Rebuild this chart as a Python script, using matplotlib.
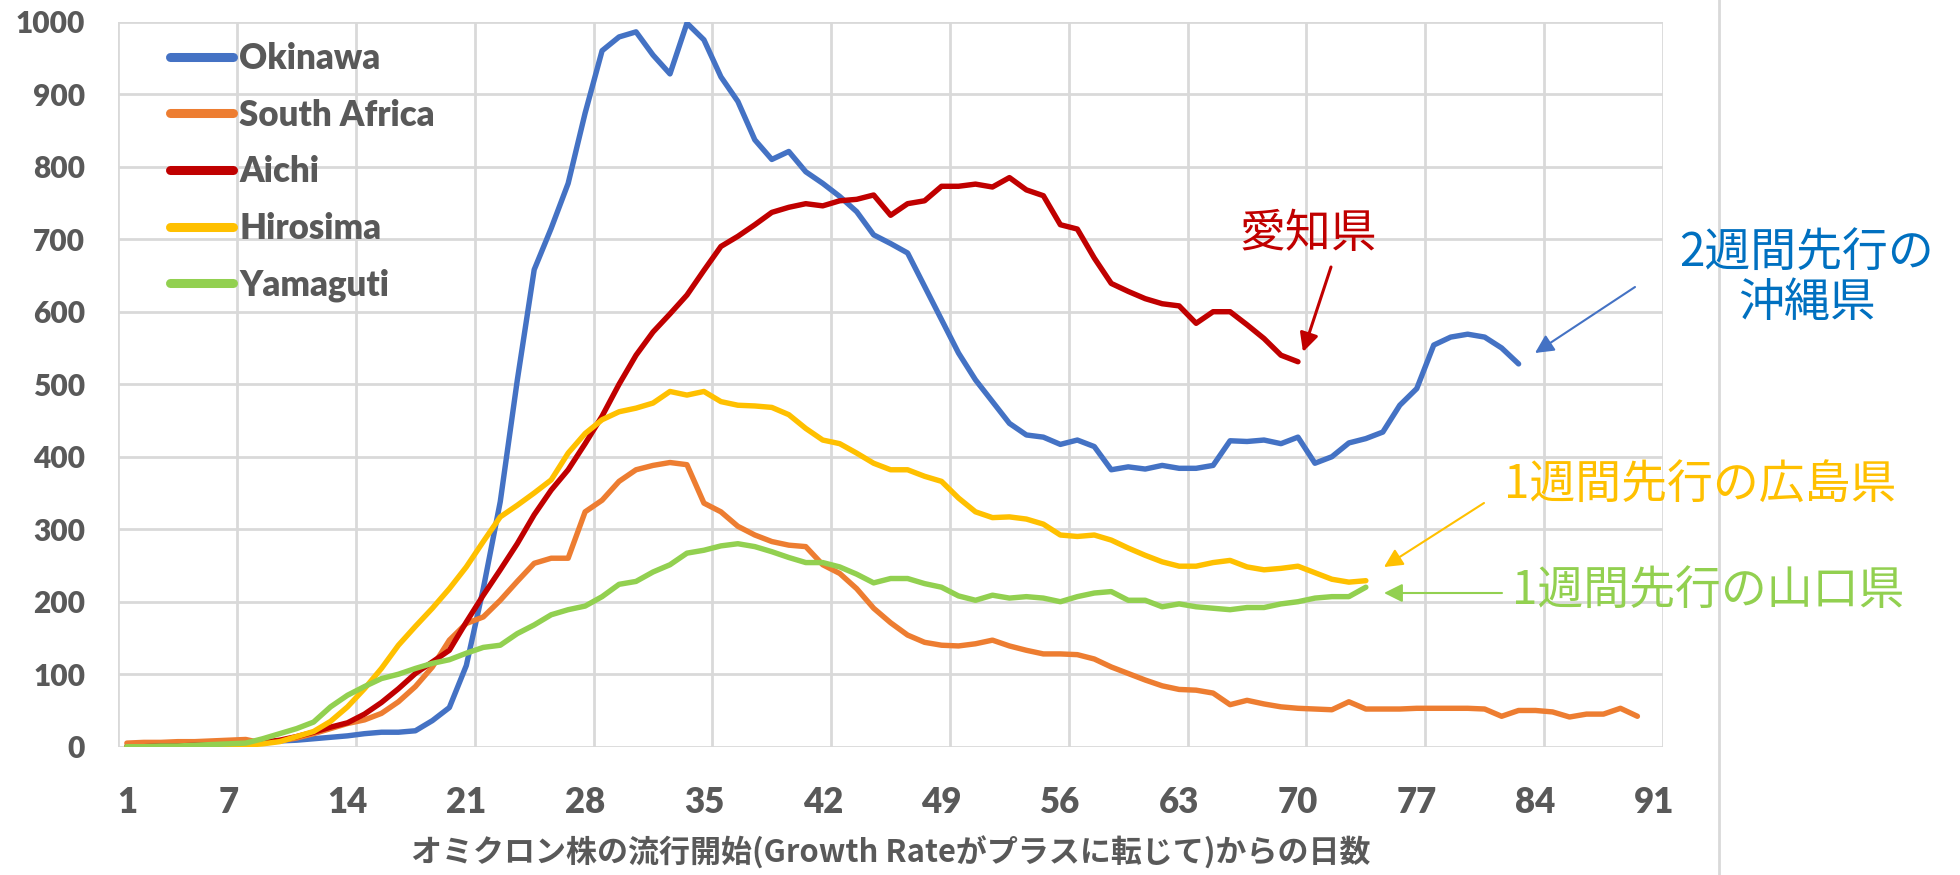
import numpy as np
import matplotlib
matplotlib.use("Agg")
import matplotlib.pyplot as plt

plt.rcParams['font.family'] = ['Lato', 'Noto Sans CJK JP', 'DejaVu Sans']

okinawa = [1, 1, 2, 2, 3, 3, 4, 5, 6, 8,
           9, 11, 13, 15, 18, 20, 20, 22, 36, 54,
           112, 218, 338, 505, 658, 715, 777, 874, 960, 979,
           986, 954, 928, 998, 975, 924, 890, 837, 810, 821,
           793, 777, 759, 738, 706, 694, 681, 635, 589, 543,
           506, 476, 446, 430, 427, 417, 423, 414, 382, 386,
           383, 388, 384, 384, 388, 422, 421, 423, 418, 427,
           391, 400, 419, 425, 434, 471, 494, 554, 565, 569,
           565, 550, 528]
south_africa = [5, 6, 6, 7, 7, 8, 9, 10, 5, 8,
                12, 18, 25, 32, 37, 46, 62, 83, 110, 147,
                170, 179, 202, 228, 253, 260, 260, 324, 340, 366,
                382, 388, 392, 389, 336, 324, 304, 292, 283, 278,
                276, 251, 239, 218, 191, 171, 154, 144, 140, 139,
                142, 147, 139, 133, 128, 128, 127, 121, 110, 101,
                92, 84, 79, 78, 74, 58, 64, 59, 55, 53,
                52, 51, 62, 52, 52, 52, 53, 53, 53, 53,
                52, 42, 50, 50, 48, 41, 45, 45, 53, 42]
aichi = [0, 0, 1, 1, 2, 2, 3, 4, 6, 9,
         14, 20, 27, 33, 45, 61, 80, 101, 117, 133,
         172, 209, 244, 280, 320, 354, 382, 418, 456, 500,
         540, 572, 597, 623, 657, 690, 704, 720, 737, 744,
         749, 746, 753, 755, 761, 733, 749, 753, 773, 773,
         776, 772, 785, 768, 760, 720, 714, 674, 639, 628,
         618, 611, 608, 584, 600, 600, 582, 563, 540, 531]
hirosima = [0, 0, 0, 0, 1, 1, 1, 2, 4, 7,
            14, 21, 35, 55, 80, 108, 140, 166, 191, 218,
            248, 283, 317, 333, 350, 368, 405, 432, 451, 462,
            467, 474, 490, 485, 490, 476, 471, 470, 468, 458,
            439, 423, 418, 405, 391, 382, 382, 373, 366, 343,
            324, 316, 317, 314, 307, 292, 290, 292, 285, 274,
            264, 255, 249, 249, 254, 257, 248, 244, 246, 249,
            240, 231, 227, 229]
yamaguti = [0, 0, 1, 1, 2, 3, 4, 5, 11, 18,
            25, 34, 55, 71, 83, 94, 100, 108, 115, 120,
            129, 137, 140, 156, 168, 182, 189, 194, 207, 224,
            228, 241, 251, 267, 271, 277, 280, 276, 269, 261,
            254, 254, 248, 238, 226, 232, 232, 225, 220, 208,
            202, 209, 205, 207, 205, 200, 207, 212, 214, 202,
            202, 193, 197, 193, 191, 189, 192, 192, 197, 200,
            205, 207, 207, 220]

series = [("Okinawa", okinawa, "#4472C4"),
          ("South Africa", south_africa, "#ED7D31"),
          ("Aichi", aichi, "#C00000"),
          ("Hirosima", hirosima, "#FFC000"),
          ("Yamaguti", yamaguti, "#92D050")]

x_labels = [1, 7, 14, 21, 28, 35, 42, 49, 56, 63, 70, 77, 84, 91]
gray = "#595959"
grid = "#D9D9D9"

fig = plt.figure(figsize=(19.6, 8.75), dpi=100)
ax = fig.add_axes([0.0604, 0.1466, 0.788, 0.8286])

for name, vals, col in series:
    days = np.arange(1, len(vals) + 1)
    ax.plot(days, vals, color=col, lw=3.9, label=name,
            solid_capstyle='round', solid_joinstyle='round')

ax.set_xlim(0.5, 91.5)
ax.set_ylim(0, 1000)
ax.set_yticks(np.arange(0, 1001, 100))
ax.set_xticks(x_labels)
ax.set_xticks(np.arange(0.5, 92, 7), minor=True)
ax.grid(False)
ax.grid(True, axis='y', which='major', color=grid, lw=2)
ax.grid(True, axis='x', which='minor', color=grid, lw=2)
ax.set_axisbelow(True)
for s in ax.spines.values():
    s.set_visible(False)
ax.tick_params(axis='both', which='both', length=0)
ax.tick_params(axis='y', labelsize=21.5, labelcolor=gray, pad=24)
ax.tick_params(axis='x', labelsize=25, labelcolor=gray, pad=28)
for t in ax.get_xticklabels() + ax.get_yticklabels():
    t.set_fontweight('heavy')

ax.set_xlabel("オミクロン株の流行開始(Growth Rateがプラスに転じて)からの日数",
              fontsize=22.3, fontweight='bold', color=gray,
              family=['Noto Sans CJK JP', 'DejaVu Sans'], labelpad=13)

leg = ax.legend(loc='upper left', bbox_to_anchor=(170 / 1960, 1 - 42 / 875),
                bbox_transform=fig.transFigure, frameon=False, fontsize=25,
                handlelength=1.8, handletextpad=0.2, labelspacing=0.68,
                borderpad=0, borderaxespad=0)
for t in leg.get_texts():
    t.set_color(gray)
    t.set_fontweight('heavy')
for h in leg.get_lines():
    h.set_linewidth(6.5)
    h.set_solid_capstyle('round')

jp = ['Noto Sans CJK JP', 'DejaVu Sans']


def fx(px):
    return px / 1960


def fy(py):
    return 1 - py / 875


fig.text(fx(1308), fy(234), "愛知県", color="#C00000", fontsize=33,
         ha='center', va='center', family=jp)
fig.text(fx(1807), fy(278), "2週間先行の\n沖縄県", color="#0070C0", fontsize=33,
         ha='center', va='center', family=jp, linespacing=1.05)
fig.text(fx(1700), fy(486), "1週間先行の広島県", color="#FFC000", fontsize=33,
         ha='center', va='center', family=jp)
fig.text(fx(1708), fy(591), "1週間先行の山口県", color="#92D050", fontsize=33,
         ha='center', va='center', family=jp)

arrows = [((1331, 267), (1303, 352), "#C00000", 2.2),
          ((1635, 287), (1535, 353), "#4472C4", 1.5),
          ((1484, 503), (1384, 567), "#FFC000", 1.5),
          ((1502, 593), (1384, 593), "#92D050", 1.5)]
for start, end, col, lw in arrows:
    fig.add_artist(matplotlib.patches.FancyArrowPatch(
        (fx(start[0]), fy(start[1])), (fx(end[0]), fy(end[1])),
        transform=fig.transFigure, arrowstyle='-|>', mutation_scale=28,
        color=col, lw=lw, shrinkA=0, shrinkB=0))

fig.add_artist(plt.Line2D([fx(1719), fx(1719)], [0, 1], color=grid, lw=2,
                          transform=fig.transFigure))

fig.savefig("out.png", dpi=100)
